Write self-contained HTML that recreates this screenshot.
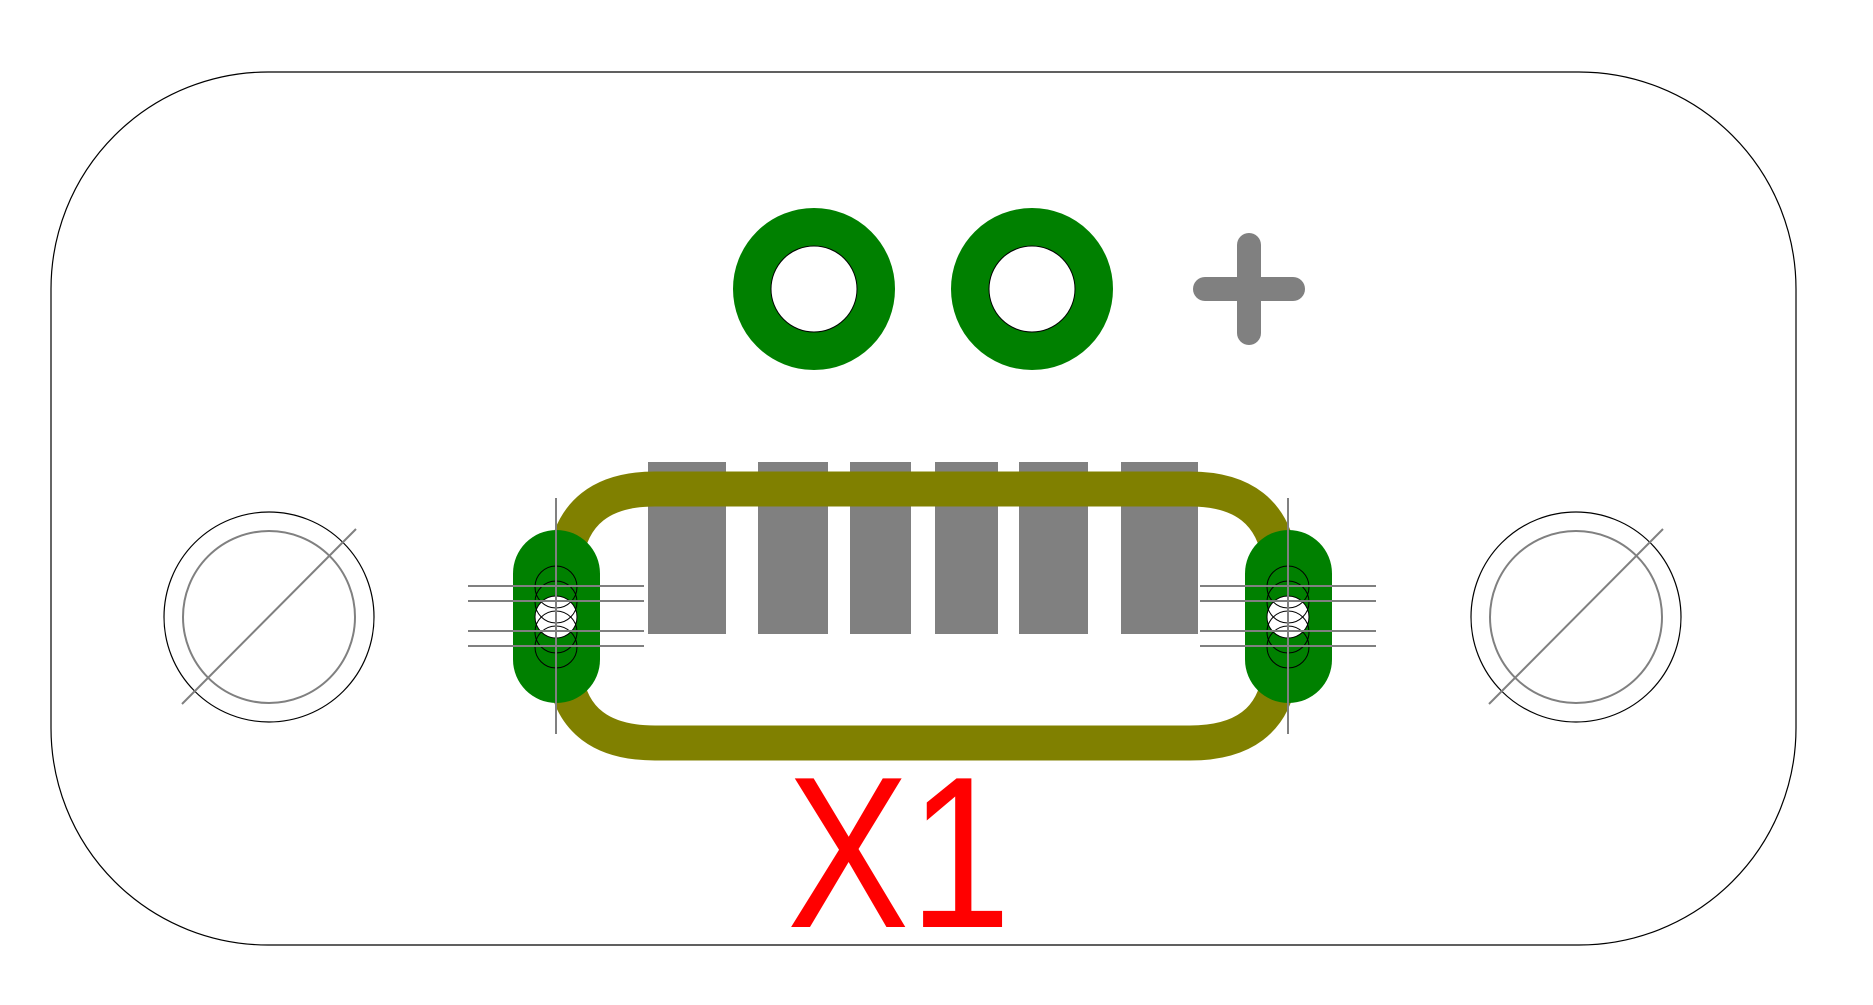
<!DOCTYPE html>
<html><head><meta charset="utf-8"><style>
html,body{margin:0;padding:0;background:#fff;}
svg{display:block;}
.lbl{font-family:"Liberation Sans", Arial, sans-serif;}
</style></head><body>
<svg width="1873" height="1005" viewBox="0 0 1873 1005" xmlns="http://www.w3.org/2000/svg">
  <rect x="51" y="72" width="1745" height="873" rx="217" ry="217" fill="#fff" stroke="#000" stroke-width="1.2"/>

  <g>
    <circle cx="269" cy="617" r="105" fill="none" stroke="#000" stroke-width="1.2"/>
    <circle cx="269" cy="617" r="86" fill="none" stroke="#808080" stroke-width="2"/>
    <line x1="182" y1="704" x2="356" y2="529" stroke="#808080" stroke-width="2"/>
  </g>
  <g>
    <circle cx="1576" cy="617" r="105" fill="none" stroke="#000" stroke-width="1.2"/>
    <circle cx="1576" cy="617" r="86" fill="none" stroke="#808080" stroke-width="2"/>
    <line x1="1489" y1="704" x2="1663" y2="529" stroke="#808080" stroke-width="2"/>
  </g>

  <g>
    <circle cx="814" cy="289" r="62" fill="none" stroke="#008000" stroke-width="38"/>
    <circle cx="814" cy="289" r="43" fill="#fff" stroke="#000" stroke-width="1"/>
  </g>
  <g>
    <circle cx="1032" cy="289" r="62" fill="none" stroke="#008000" stroke-width="38"/>
    <circle cx="1032" cy="289" r="43" fill="#fff" stroke="#000" stroke-width="1"/>
  </g>
  <g stroke="#808080" stroke-width="24" stroke-linecap="round">
    <line x1="1249" y1="245" x2="1249" y2="333"/>
    <line x1="1205" y1="289" x2="1293" y2="289"/>
  </g>

  <g fill="#808080">
    <rect x="648" y="462" width="78" height="172"/>
    <rect x="758" y="462" width="70" height="172"/>
    <rect x="850" y="462" width="61" height="172"/>
    <rect x="935" y="462" width="63" height="172"/>
    <rect x="1019" y="462" width="69" height="172"/>
    <rect x="1121" y="462" width="77" height="172"/>
  </g>

  <path d="M565,560 Q575,489 655,489 L1190,489 Q1270,489 1280,560 M565,675 Q575,743 655,743 L1190,743 Q1270,743 1280,675" fill="none" stroke="#808000" stroke-width="35"/>

  <g>
    <rect x="513" y="530" width="87" height="173" rx="43.5" ry="43.5" fill="#008000"/>
    <circle cx="556" cy="617" r="21" fill="#fff"/>
    <g fill="none" stroke="#000" stroke-width="1">
      <circle cx="556" cy="587" r="21"/><circle cx="556" cy="602" r="21"/><circle cx="556" cy="617" r="21"/><circle cx="556" cy="632" r="21"/><circle cx="556" cy="647" r="21"/>
    </g>
    <g stroke="#808080" stroke-width="2">
      <line x1="468" y1="586" x2="644" y2="586"/><line x1="468" y1="601" x2="644" y2="601"/>
      <line x1="468" y1="631" x2="644" y2="631"/><line x1="468" y1="646" x2="644" y2="646"/>
      <line x1="556" y1="498" x2="556" y2="734"/>
    </g>
  </g>
  <g>
    <rect x="1245" y="530" width="87" height="173" rx="43.5" ry="43.5" fill="#008000"/>
    <circle cx="1288" cy="617" r="21" fill="#fff"/>
    <g fill="none" stroke="#000" stroke-width="1">
      <circle cx="1288" cy="587" r="21"/><circle cx="1288" cy="602" r="21"/><circle cx="1288" cy="617" r="21"/><circle cx="1288" cy="632" r="21"/><circle cx="1288" cy="647" r="21"/>
    </g>
    <g stroke="#808080" stroke-width="2">
      <line x1="1200" y1="586" x2="1376" y2="586"/><line x1="1200" y1="601" x2="1376" y2="601"/>
      <line x1="1200" y1="631" x2="1376" y2="631"/><line x1="1200" y1="646" x2="1376" y2="646"/>
      <line x1="1288" y1="498" x2="1288" y2="734"/>
    </g>
  </g>

  <text class="lbl" x="787" y="927" font-size="216" fill="#ff0000" textLength="224" lengthAdjust="spacingAndGlyphs">X1</text>
</svg>
</body></html>
